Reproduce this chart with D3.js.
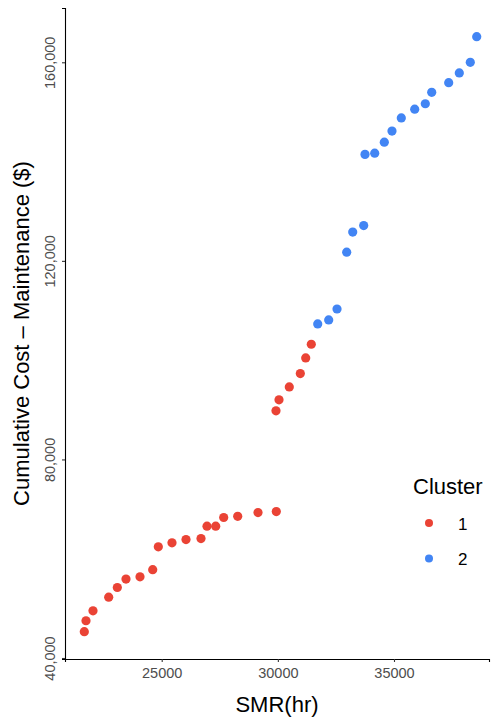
<!DOCTYPE html>
<html>
<head>
<meta charset="utf-8">
<script src="https://cdn.jsdelivr.net/npm/d3@7"></script>
<style>
  body { margin: 0; background: #fff; }
  svg { display: block; font-family: "Liberation Sans", Arial, sans-serif; }
</style>
</head>
<body>
<svg id="chart"></svg>
<script>
// SMR (hours) for each unit
var smr = [21668, 21741, 22042, 22718, 23089, 23463, 24066, 24613, 24854, 25443,
           26046, 26692, 26950, 27325, 27669, 28272, 29146, 29933, 29920, 30050,
           30493, 30967, 31199, 31440,
           31716, 32189, 32547, 32964, 33223, 33696, 33752, 34170, 34583, 34914,
           35315, 35892, 36348, 36624, 37355, 37812, 38285, 38561];

// cumulative maintenance cost ($)
var cost = [45300, 47500, 49500, 52250, 54200, 55900, 56350, 57800, 62400, 63200,
            63850, 64050, 66550, 66550, 68300, 68550, 69300, 69500, 89800, 92000,
            94600, 97300, 100450, 103200,
            107300, 108100, 110300, 121750, 125800, 127100, 141450, 141700, 143900, 146150,
            148800, 150550, 151650, 153950, 155900, 157850, 160000, 165150];

var cluster = ['1', '1', '1', '1', '1', '1', '1', '1', '1', '1',
               '1', '1', '1', '1', '1', '1', '1', '1', '1', '1',
               '1', '1', '1', '1',
               '2', '2', '2', '2', '2', '2', '2', '2', '2', '2',
               '2', '2', '2', '2', '2', '2', '2', '2'];

var clusterNames = ['1', '2'];
var clusterColors = ['#ea4335', '#4285f4'];
var xTicks = [25000, 30000, 35000];
var yTicks = [40000, 80000, 120000, 160000];

var points = smr.map(function (s, i) {
  return {smr: s, cost: cost[i], cluster: cluster[i]};
});

var width = 491;
var height = 719;
var panelLeft = 65, panelRight = 489, panelTop = 8, panelBottom = 659;

var svg = d3.select('#chart')
            .attr('width', width)
            .attr('height', height);

var x = d3.scaleLinear().domain([20837, 39090]).range([panelLeft, panelRight]);
var y = d3.scaleLinear().domain([39800, 170936]).range([panelBottom, panelTop]);
var color = d3.scaleOrdinal().domain(clusterNames).range(clusterColors);

// x axis
var xAxis = svg.append('g')
  .attr('transform', 'translate(0,' + panelBottom + ')')
  .call(d3.axisBottom(x).tickValues(xTicks).tickFormat(d3.format('d')).tickSizeOuter(0).tickSize(3).tickPadding(6));
xAxis.select('.domain').attr('stroke', '#000').attr('stroke-width', 1.1);
xAxis.selectAll('.tick line').attr('stroke', '#333').attr('stroke-width', 1.1);
xAxis.selectAll('.tick text').attr('fill', '#4d4d4d').attr('font-size', 14.5);

// y axis
var yAxis = svg.append('g')
  .attr('transform', 'translate(' + panelLeft + ',0)')
  .call(d3.axisLeft(y).tickValues(yTicks).tickFormat(d3.format(',')).tickSizeOuter(0).tickSize(3));
yAxis.select('.domain').attr('stroke', '#000').attr('stroke-width', 1.1);
yAxis.selectAll('.tick line').attr('stroke', '#333').attr('stroke-width', 1.1);
yAxis.selectAll('.tick text')
  .attr('fill', '#4d4d4d')
  .attr('font-size', 14.5)
  .attr('x', null).attr('dy', null)
  .attr('text-anchor', 'middle')
  .attr('transform', 'translate(-10,0) rotate(-90)');

// axis titles
svg.append('text')
  .attr('x', (panelLeft + panelRight) / 2)
  .attr('y', 712)
  .attr('text-anchor', 'middle')
  .attr('font-size', 22)
  .text('SMR(hr)');

svg.append('text')
  .attr('transform', 'translate(29,' + (panelTop + panelBottom) / 2 + ') rotate(-90)')
  .attr('text-anchor', 'middle')
  .attr('font-size', 22)
  .text('Cumulative Cost \u2013 Maintenance ($)');

// points
svg.append('g').selectAll('circle')
  .data(points)
  .enter()
    .append('circle')
    .attr('cx', function (d) { return x(d.smr); })
    .attr('cy', function (d) { return y(d.cost); })
    .attr('r', 4.6)
    .attr('fill', function (d) { return color(d.cluster); });

// legend
var legend = svg.append('g').attr('transform', 'translate(413,0)');
legend.append('text')
  .attr('x', 0).attr('y', 494)
  .attr('font-size', 22)
  .text('Cluster');

var items = legend.selectAll('.item')
  .data(clusterNames)
  .enter()
    .append('g')
    .attr('class', 'item')
    .attr('transform', function (d, i) { return 'translate(0,' + (523 + i * 35.5) + ')'; });
items.append('circle')
  .attr('cx', 16).attr('cy', 0).attr('r', 4)
  .attr('fill', function (d) { return color(d); });
items.append('text')
  .attr('x', 45).attr('y', 6.5)
  .attr('font-size', 17)
  .text(function (d) { return d; });
</script>
</body>
</html>
